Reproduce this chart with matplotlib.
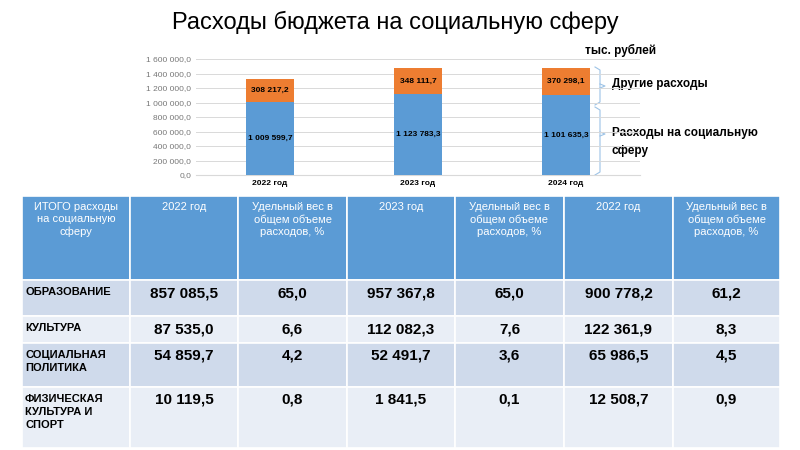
import matplotlib.pyplot as plt
from matplotlib.patches import Rectangle

plt.rcParams["font.family"] = "Liberation Sans"

years = ["2022 год", "2023 год", "2024 год"]
social = [1009599.7, 1123783.3, 1101635.3]
other = [308217.2, 348111.7, 370298.1]
social_lbl = ["1 009 599,7", "1 123 783,3", "1 101 635,3"]
other_lbl = ["308 217,2", "348 111,7", "370 298,1"]
yticks = [0, 200000, 400000, 600000, 800000, 1000000, 1200000, 1400000, 1600000]

header = ["ИТОГО расходы\nна социальную\nсферу", "2022 год", "Удельный вес в\nобщем объеме\nрасходов, %",
          "2023 год", "Удельный вес в\nобщем объеме\nрасходов, %", "2022 год",
          "Удельный вес в\nобщем объеме\nрасходов, %"]
row_names = ["ОБРАЗОВАНИЕ", "КУЛЬТУРА", "СОЦИАЛЬНАЯ\nПОЛИТИКА", "ФИЗИЧЕСКАЯ\nКУЛЬТУРА И\nСПОРТ"]
table_vals = [
    ["857 085,5", "65,0", "957 367,8", "65,0", "900 778,2", "61,2"],
    ["87 535,0", "6,6", "112 082,3", "7,6", "122 361,9", "8,3"],
    ["54 859,7", "4,2", "52 491,7", "3,6", "65 986,5", "4,5"],
    ["10 119,5", "0,8", "1 841,5", "0,1", "12 508,7", "0,9"],
]

W, H = 800, 450
fig = plt.figure(figsize=(8, 4.5), dpi=100)
bg = fig.add_axes([0, 0, 1, 1])
bg.set_xlim(0, W)
bg.set_ylim(H, 0)
bg.axis("off")

bg.text(395, 22, "Расходы бюджета на социальную сферу", ha="center", va="center", fontsize=17)

# bar chart
def fx(px):
    return px / W

def fy(py):
    return 1 - py / H

ax = fig.add_axes([fx(196), fy(175), fx(640) - fx(196), fy(59) - fy(175)])
x = range(len(years))
ax.bar(x, social, width=0.32, color="#5B9BD5", zorder=3)
ax.bar(x, other, width=0.32, bottom=social, color="#ED7D31", zorder=3)
for i in x:
    ax.text(i, social[i] / 2, social_lbl[i], ha="center", va="center", fontsize=6, fontweight="bold", zorder=4)
    ax.text(i, social[i] + other[i] / 2, other_lbl[i], ha="center", va="center", fontsize=6, fontweight="bold", zorder=4)
ax.set_xlim(-0.5, 2.5)
ax.set_ylim(0, 1600000)
ax.set_yticks(yticks)
ax.set_yticklabels([f"{v:,.1f}".replace(",", " ").replace(".", ",") for v in yticks], fontsize=6, color="#777777")
ax.set_xticks(list(x))
ax.set_xticklabels(years, fontsize=6, fontweight="bold")
ax.tick_params(length=0)
ax.grid(axis="y", color="#D9D9D9", lw=0.7, zorder=0)
for s in ax.spines.values():
    s.set_visible(False)
ax.spines["bottom"].set_visible(True)
ax.spines["bottom"].set_color("#D9D9D9")
ax.patch.set_alpha(0)

# annotations
bg.text(585, 50, "тыс. рублей", fontsize=8.5, fontweight="bold", va="center")
for y0, y1, ym in [(67, 105, 86), (107, 175, 134)]:
    bg.plot([595, 600, 600, 595], [y0, y0 + 3, y1 - 3, y1], color="#9DC3E6", lw=0.8)
    bg.plot([600, 605, 600], [ym - 2, ym, ym + 2], color="#9DC3E6", lw=0.8)
bg.text(612, 84, "Другие расходы", fontsize=8.5, fontweight="bold", va="center")
bg.text(612, 133, "Расходы на социальную", fontsize=8.5, fontweight="bold", va="center")
bg.text(612, 151, "сферу", fontsize=8.5, fontweight="bold", va="center")

# table
col_x = [22, 130, 238, 347, 455, 564, 673, 780]
row_y = [196, 280, 316, 343, 387, 448]
fills = ["#5B9BD5", "#CFDAEB", "#E9EEF6", "#CFDAEB", "#E9EEF6"]
for r in range(5):
    for c in range(7):
        x0, x1 = col_x[c], col_x[c + 1]
        y0, y1 = row_y[r], row_y[r + 1]
        bg.add_patch(Rectangle((x0, y0), x1 - x0, y1 - y0, facecolor=fills[r], edgecolor="white", lw=1.2))
        if r == 0:
            bg.text((x0 + x1) / 2, y0 + 6, header[c], ha="center", va="top", fontsize=8, color="white", linespacing=1.3)
        elif c == 0:
            bg.text(x0 + 3, y0 + 7, row_names[r - 1], ha="left", va="top", fontsize=8, fontweight="bold", linespacing=1.4)
        else:
            bg.text((x0 + x1) / 2, y0 + 6, table_vals[r - 1][c - 1], ha="center", va="top", fontsize=11, fontweight="bold")

fig.savefig("out.png", dpi=100)
